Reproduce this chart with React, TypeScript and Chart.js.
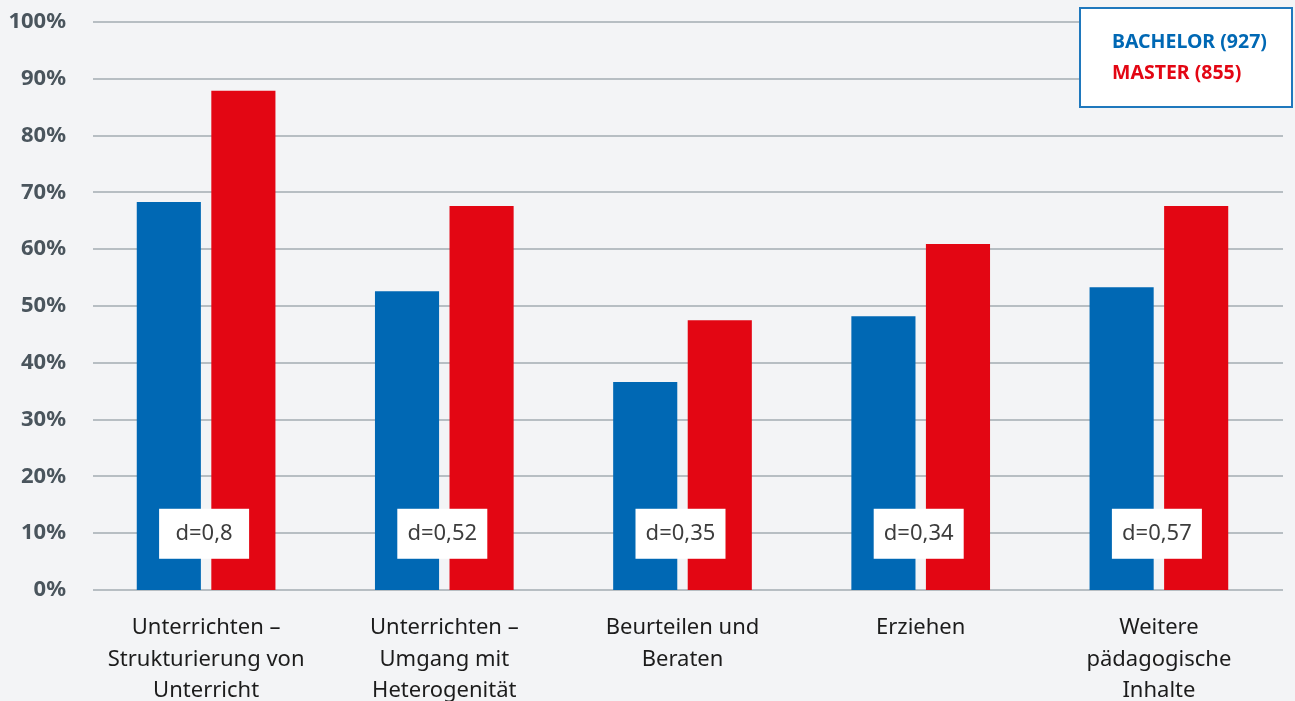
import React, { useEffect, useRef } from "react";
import { Chart, registerables } from "chart.js";

Chart.register(...registerables);

const categories: string[][] = [
  ["Unterrichten –", "Strukturierung von", "Unterricht"],
  ["Unterrichten –", "Umgang mit", "Heterogenität"],
  ["Beurteilen und", "Beraten"],
  ["Erziehen"],
  ["Weitere", "pädagogische", "Inhalte"],
];
const bachelorValues = [68.3, 52.6, 36.6, 48.2, 53.3];
const masterValues = [87.9, 67.6, 47.5, 60.9, 67.6];
const effectSizes = ["d=0,8", "d=0,52", "d=0,35", "d=0,34", "d=0,57"];
const effectLabelLevel = 9.9;
const seriesNames = ["BACHELOR (927)", "MASTER (855)"];
const yTicks = [0, 10, 20, 30, 40, 50, 60, 70, 80, 90, 100];

const BLUE = "#0068b4";
const RED = "#e30613";
const BG = "#f3f4f6";
const GRID = "#b7bec3";
const REG_FONT = "'Noto Sans'";

const gridPlugin = {
  id: "customGrid",
  beforeDatasetsDraw(chart: any) {
    const { ctx, chartArea, scales } = chart;
    const y = scales.y;
    ctx.save();
    ctx.strokeStyle = GRID;
    ctx.lineWidth = 2;
    yTicks.forEach((t) => {
      const py = Math.round(y.getPixelForValue(t));
      ctx.beginPath();
      ctx.moveTo(chartArea.left + 6, py);
      ctx.lineTo(chartArea.right + 5, py);
      ctx.stroke();
    });
    ctx.restore();
  },
};

const overlayPlugin = {
  id: "overlay",
  afterDatasetsDraw(chart: any) {
    const { ctx, scales } = chart;
    const x = scales.x;
    const y = scales.y;
    ctx.save();
    const bw = 90;
    const bh = 50;
    effectSizes.forEach((label, i) => {
      const cx = x.getPixelForValue(i) - 2;
      const cy = y.getPixelForValue(effectLabelLevel);
      ctx.fillStyle = "#ffffff";
      ctx.fillRect(cx - bw / 2, cy - bh / 2, bw, bh);
      ctx.fillStyle = "#3d3d3d";
      ctx.font = "22px " + REG_FONT;
      ctx.textAlign = "center";
      ctx.textBaseline = "middle";
      ctx.fillText(label, cx, cy);
    });

    // legend box
    const lx = 1080;
    const ly = 8;
    const lw = 212;
    const lh = 99;
    ctx.fillStyle = "#ffffff";
    ctx.fillRect(lx, ly, lw, lh);
    ctx.strokeStyle = "#1f78bd";
    ctx.lineWidth = 2;
    ctx.strokeRect(lx, ly, lw, lh);
    ctx.font = "bold 19.5px 'Noto Sans'";
    ctx.textAlign = "left";
    ctx.textBaseline = "middle";
    ctx.fillStyle = BLUE;
    ctx.fillText(seriesNames[0], 1112, 42);
    ctx.fillStyle = RED;
    ctx.fillText(seriesNames[1], 1112, 73);
    ctx.restore();
  },
};

export default function App() {
  const canvasRef = useRef<HTMLCanvasElement | null>(null);

  useEffect(() => {
    if (!canvasRef.current) return;
    const chart = new Chart(canvasRef.current, {
      type: "bar",
      data: {
        labels: categories,
        datasets: [
          {
            label: seriesNames[0],
            data: bachelorValues,
            backgroundColor: BLUE,
            barPercentage: 0.86,
            categoryPercentage: 0.626,
          },
          {
            label: seriesNames[1],
            data: masterValues,
            backgroundColor: RED,
            barPercentage: 0.86,
            categoryPercentage: 0.626,
          },
        ],
      },
      options: {
        responsive: false,
        animation: false,
        layout: { padding: { top: 0, right: 17, left: 0, bottom: 0 } },
        plugins: {
          legend: { display: false },
          tooltip: { enabled: false },
        },
        scales: {
          x: {
            grid: { display: false, drawTicks: false },
            border: { display: false },
            ticks: {
              autoSkip: false,
              maxRotation: 0,
              minRotation: 0,
              padding: 22,
              color: "#1c1c1c",
              font: { family: REG_FONT, size: 22, lineHeight: 1.44 },
            },
            afterFit: (scale: any) => {
              scale.height = 111;
            },
          },
          y: {
            min: 0,
            max: 100,
            grid: { display: false, drawTicks: false },
            border: { display: false },
            ticks: {
              stepSize: 10,
              padding: 21,
              color: "#4a555d",
              font: { family: "'Noto Sans'", size: 22, weight: "bold" },
              callback: (v: any) => v + "%",
            },
            afterFit: (scale: any) => {
              scale.width = 87;
              scale.paddingTop = 22;
              scale.paddingBottom = 0;
            },
          },
        },
      },
      plugins: [gridPlugin, overlayPlugin],
    });
    return () => chart.destroy();
  }, []);

  return (
    <div
      style={{
        position: "fixed",
        left: 0,
        top: 0,
        width: 1295,
        height: 701,
        background: BG,
      }}
    >
      <canvas ref={canvasRef} width={1295} height={701} />
    </div>
  );
}
